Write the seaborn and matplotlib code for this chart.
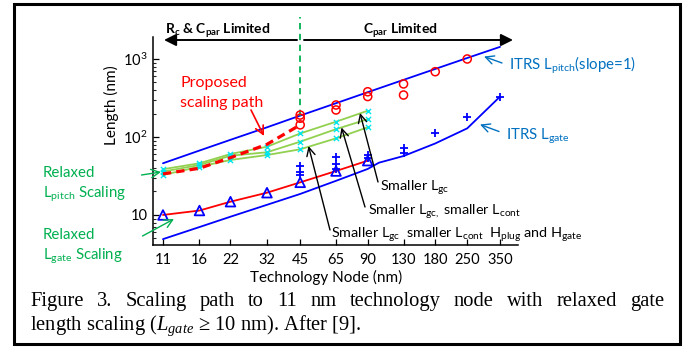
import matplotlib
matplotlib.use("Agg")
import matplotlib.pyplot as plt
from matplotlib.patches import Rectangle
from matplotlib.ticker import FixedLocator, FixedFormatter, LogLocator, NullFormatter
import pandas as pd
import seaborn as sns

# ---- data -------------------------------------------------------------
nodes = [11, 16, 22, 32, 45, 65, 90, 130, 180, 250, 350]
node_labels = [str(n) for n in nodes]

# ITRS contacted gate pitch (slope = 1 on log-log axes)
itrs_pitch = [46, 67, 92, 133, 188, 271, 375, 540, 745, 1030, 1430]

# ITRS physical gate length
itrs_gate_nodes = [11, 16, 22, 32, 45, 65, 90, 101, 130, 180, 250, 350]
itrs_gate = [4.9, 7.0, 9.5, 13.5, 18.6, 27.4, 38.9, 46.8, 57, 82.6, 129, 329]

# relaxed gate length scaling (Lgate >= 10 nm)
relaxed_nodes = [11, 16, 22, 32, 45, 65, 90]
relaxed_gate = [10.0, 11.4, 14.8, 19.3, 26.2, 36.6, 49.7]

# relaxed pitch scaling options
pitch_smaller_lgc = [38.6, 46, 60.5, 75, 111, 157, 217]
pitch_smaller_lgc_lcont = [36, 43.7, 57.5, 63.7, 87, 126, 169]
pitch_smaller_all = [32.6, 41.6, 50.7, 58.7, 69.5, 96, 133]

# proposed scaling path
proposed_nodes = [11, 16, 22, 32, 45]
proposed_path = [33.6, 39.7, 54.3, 80.5, 143]

# reported pitch values
pitch_data_nodes = [45, 45, 45, 65, 65, 90, 90, 130, 130, 180, 250]
pitch_data = [191, 174, 143, 257, 222, 380, 330, 479, 345, 687, 1000]

# reported gate lengths
gate_data_nodes = [45, 45, 45, 65, 65, 65, 90, 90, 130, 130, 180, 250, 350]
gate_data = [42.8, 35.2, 32.6, 55.8, 44.7, 38.5, 58.8, 53.4, 71.6, 61.8, 113, 180, 329]

caption_line1 = "Figure 3. Scaling path to 11 nm technology node with relaxed gate"
caption_line2 = r"length scaling ($L_{gate}$ ≥ 10 nm). After [9]."

# ---- style ------------------------------------------------------------
sns.set_theme(style="ticks")
plt.rcParams["font.family"] = ["Lato", "DejaVu Sans"]
plt.rcParams["mathtext.fontset"] = "custom"
plt.rcParams["mathtext.rm"] = "Liberation Serif"
plt.rcParams["mathtext.it"] = "Liberation Serif:italic"

BLUE = "#0000FF"
RED = "#FF0000"
LGREEN = "#92D050"
GREEN = "#00B050"
CYAN = "#00E5EE"
TBLUE = "#0070C0"

W, H = 688, 347
fig = plt.figure(figsize=(W / 100, H / 100), dpi=100)
fig.patch.set_facecolor("white")
ax = fig.add_axes([153 / W, (H - 245) / H, (518 - 153) / W, (245 - 37) / H])
ax.set_facecolor("white")


def px(x, y):
    """top-down pixel position -> figure pixels"""
    return (x, H - y)


# ---- lines ------------------------------------------------------------
df_pitch = pd.DataFrame({"node": nodes, "len": itrs_pitch})
sns.lineplot(data=df_pitch, x="node", y="len", ax=ax, color=BLUE, lw=1.3,
             estimator=None, sort=False)
df_gate = pd.DataFrame({"node": itrs_gate_nodes, "len": itrs_gate})
sns.lineplot(data=df_gate, x="node", y="len", ax=ax, color=BLUE, lw=1.3,
             estimator=None, sort=False)

for series in (pitch_smaller_lgc, pitch_smaller_lgc_lcont, pitch_smaller_all):
    d = pd.DataFrame({"node": relaxed_nodes, "len": series})
    sns.lineplot(data=d, x="node", y="len", ax=ax, color=LGREEN, lw=1.3,
                 estimator=None, sort=False)
    sns.scatterplot(data=d, x="node", y="len", ax=ax, marker="x", color=CYAN,
                    s=14, linewidth=1.0, zorder=4)

df_rel = pd.DataFrame({"node": relaxed_nodes, "len": relaxed_gate})
sns.lineplot(data=df_rel, x="node", y="len", ax=ax, color=RED, lw=1.3,
             estimator=None, sort=False)

df_prop = pd.DataFrame({"node": proposed_nodes, "len": proposed_path})
prop_line = sns.lineplot(data=df_prop, x="node", y="len", ax=ax, color=RED,
                         lw=2.3, estimator=None, sort=False).lines[-1]
prop_line.set_dashes([2.6, 1.6])
prop_line.set_zorder(5)

# ---- markers ----------------------------------------------------------
sns.scatterplot(x=pitch_data_nodes, y=pitch_data, ax=ax, marker="o",
                facecolors="none", edgecolor=RED, linewidth=1.1, s=34, zorder=6)
sns.scatterplot(x=gate_data_nodes, y=gate_data, ax=ax, marker="+",
                color=BLUE, linewidth=1.3, s=30, zorder=6)
sns.scatterplot(x=relaxed_nodes, y=relaxed_gate, ax=ax, marker="^",
                facecolors="none", edgecolor=BLUE, linewidth=1.3, s=48, zorder=6)

# boundary between the two limited regimes
top_val = 10 ** (1 + (215 - 17) / 78)
ax.vlines(45, itrs_pitch[nodes.index(45)], top_val, colors=GREEN, lw=1.3,
          linestyles=(0, (3.5, 2.5)), clip_on=False, zorder=3)

# ---- axes -------------------------------------------------------------
ax.set_xscale("log")
ax.set_yscale("log")
ax.set_xlim(9.93, 421)
ax.set_ylim(4.12, 1914)
ax.xaxis.set_major_locator(FixedLocator(nodes))
ax.xaxis.set_major_formatter(FixedFormatter(node_labels))
ax.xaxis.set_minor_locator(FixedLocator([]))
ax.yaxis.set_major_locator(FixedLocator([10, 100, 1000]))
ax.yaxis.set_major_formatter(FixedFormatter(
    ["10", r"$\mathregular{10^2}$", r"$\mathregular{10^3}$"]))
ax.yaxis.set_minor_locator(LogLocator(base=10, subs=range(2, 10)))
ax.yaxis.set_minor_formatter(NullFormatter())
ax.tick_params(axis="both", which="major", direction="in", length=4,
               width=0.9, color="black", labelsize=10.5, labelcolor="black")
ax.tick_params(axis="x", pad=6)
ax.tick_params(axis="y", pad=4)
ax.tick_params(axis="y", which="minor", direction="in", length=2.5, width=0.8)
ax.set_xlabel("")
ax.set_ylabel("")
sns.despine(ax=ax)
for s in ("left", "bottom"):
    ax.spines[s].set_color("black")
    ax.spines[s].set_linewidth(1.1)
ax.grid(False)

fig.text(326 / W, (H - 277) / H, "Technology Node (nm)", ha="center",
         va="center", fontsize=11, color="black")
fig.text(111 / W, (H - 105) / H, "Length (nm)", ha="center", va="center",
         rotation=90, fontsize=11, color="black")

# ---- regime arrows ----------------------------------------------------
arrow_head = dict(arrowstyle="-|>,head_length=0.6,head_width=0.3", color="black",
                  lw=1.4, shrinkA=0, shrinkB=0)
fig.add_artist(plt.Annotation("", xy=px(164, 40), xytext=px(297, 40),
                              xycoords="figure pixels", textcoords="figure pixels",
                              arrowprops=arrow_head))
fig.add_artist(plt.Annotation("", xy=px(513, 40), xytext=px(304, 40),
                              xycoords="figure pixels", textcoords="figure pixels",
                              arrowprops=arrow_head))
fig.text(165 / W, (H - 34) / H, r"$\mathregular{R_c}$ & $\mathregular{C_{par}}$ Limited",
         fontsize=10, fontweight="bold", va="baseline", ha="left", color="black")
fig.text(363 / W, (H - 34) / H, r"$\mathregular{C_{par}}$ Limited",
         fontsize=10, fontweight="bold", va="baseline", ha="left", color="black")


def label(x, y, s, color, size=11, **kw):
    fig.text(x / W, (H - y) / H, s, fontsize=size, color=color, va="baseline",
             ha="left", **kw)


def pointer(tail, head, color, lw=1.0):
    fig.add_artist(plt.Annotation(
        "", xy=px(*head), xytext=px(*tail), xycoords="figure pixels",
        textcoords="figure pixels",
        arrowprops=dict(arrowstyle="->,head_length=0.5,head_width=0.25",
                        color=color, lw=lw, shrinkA=0, shrinkB=0)))


# ---- annotations ------------------------------------------------------
label(180, 87.5, "Proposed", RED, 11.5)
label(180, 106.5, "scaling path", RED, 11.5)
pointer((251, 110), (264, 136), RED, 1.2)

label(509, 69.5, r"ITRS $\mathregular{L_{pitch}}$(slope=1)", TBLUE, 10.8)
pointer((502, 63), (484, 56.5), TBLUE)
label(506, 140, r"ITRS $\mathregular{L_{gate}}$", TBLUE, 10.8)
pointer((499, 131.5), (480, 124.5), TBLUE)

label(43, 176.7, "Relaxed", GREEN, 10.8)
label(43, 197.3, r"$\mathregular{L_{pitch}}$ Scaling", GREEN, 10.8)
label(43, 239.3, "Relaxed", GREEN, 10.8)
label(43, 259.3, r"$\mathregular{L_{gate}}$ Scaling", GREEN, 10.8)
pointer((141.5, 175), (161, 172), GREEN)
pointer((142.5, 236), (174, 219), GREEN)

label(380, 190.7, r"Smaller $\mathregular{L_{gc}}$", "black", 10.4)
label(368, 215, r"Smaller $\mathregular{L_{gc,}}$ smaller $\mathregular{L_{cont}}$",
      "black", 10.4)
label(331, 238.3,
      r"Smaller $\mathregular{L_{gc}}$  smaller $\mathregular{L_{cont}}$  "
      r"$\mathregular{H_{plug}}$ and $\mathregular{H_{gate}}$", "black", 10.4)
pointer((378, 182), (360, 113), "black")
pointer((365, 207), (341.5, 127.5), "black")
pointer((330, 230), (308.5, 146), "black")

# ---- caption ----------------------------------------------------------
cap_size = 14.8
fig.canvas.draw()
renderer = fig.canvas.get_renderer()
words = caption_line1.split()
widths = []
for w in words:
    t = fig.text(0, 0, w, fontsize=cap_size, family="Liberation Serif")
    widths.append(t.get_window_extent(renderer).width)
    t.remove()
left, right = 30, 664
gap = (right - left - sum(widths)) / (len(words) - 1)
xpos = left
for w, wd in zip(words, widths):
    fig.text(xpos / W, (H - 306) / H, w, fontsize=cap_size,
             family="Liberation Serif", va="baseline", ha="left", color="black")
    xpos += wd + gap
fig.text(left / W, (H - 330) / H, caption_line2, fontsize=cap_size,
         family="Liberation Serif", va="baseline", ha="left", color="black")

# outer frame
fig.add_artist(Rectangle((13.5 / W, (H - 343.5) / H), (679.5 - 13.5) / W,
                         (343.5 - 3.5) / H, transform=fig.transFigure,
                         fill=False, lw=2.2, edgecolor="black"))

fig.savefig("out.png", dpi=100, facecolor="white")
